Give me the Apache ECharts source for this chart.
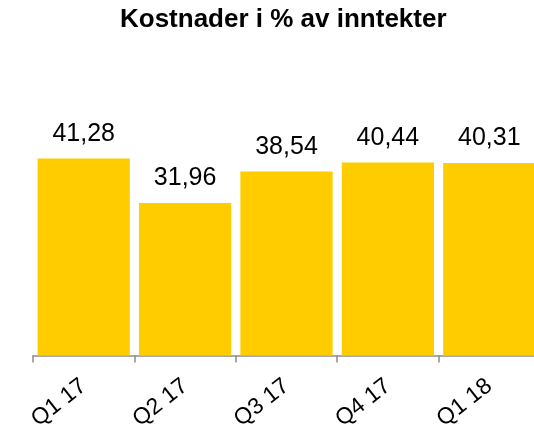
<!DOCTYPE html>
<html>
<head>
<meta charset="utf-8">
<script src="https://cdn.jsdelivr.net/npm/echarts@6/dist/echarts.min.js"></script>
<style>
html,body{margin:0;padding:0;background:#fff;}
#chart{width:534px;height:428px;}
</style>
</head>
<body>
<div id="chart"></div>
<script>
var titleText = 'Kostnader i % av inntekter';
var categories = ['Q1 17', 'Q2 17', 'Q3 17', 'Q4 17', 'Q1 18'];
var values = [41.28, 31.96, 38.54, 40.44, 40.31];

var chart = echarts.init(document.getElementById('chart'), null, {renderer: 'canvas'});
chart.setOption({
  animation: false,
  backgroundColor: '#ffffff',
  title: {
    text: titleText,
    left: 115,
    top: 2,
    textStyle: {fontFamily: 'Liberation Sans, Arial, sans-serif', fontSize: 26, fontWeight: 'bold', color: '#000'}
  },
  grid: {left: 33, top: 116.75, width: 507, height: 238.75, containLabel: false, outerBoundsMode: 'none'},
  xAxis: {
    type: 'category',
    data: categories,
    axisLine: {show: true, lineStyle: {color: '#8c8c8c', width: 1.5}},
    axisTick: {show: true, length: 7, alignWithLabel: false, lineStyle: {color: '#8c8c8c', width: 1.5}},
    axisLabel: {
      rotate: 38,
      margin: 28,
      interval: 0,
      fontFamily: 'Liberation Sans, Arial, sans-serif',
      fontSize: 23,
      color: '#000'
    }
  },
  yAxis: {
    type: 'value', min: 0, max: 50, show: false, splitLine: {show: false}
  },
  series: [{
    type: 'bar',
    data: values,
    barCategoryGap: '9%',
    itemStyle: {color: '#FFCC00'},
    label: {
      show: true,
      position: 'top',
      distance: 12,
      fontFamily: 'Liberation Sans, Arial, sans-serif',
      fontSize: 25,
      color: '#000',
      formatter: function (p) { return p.value.toFixed(2).replace('.', ','); }
    }
  }]
});
</script>
</body>
</html>
